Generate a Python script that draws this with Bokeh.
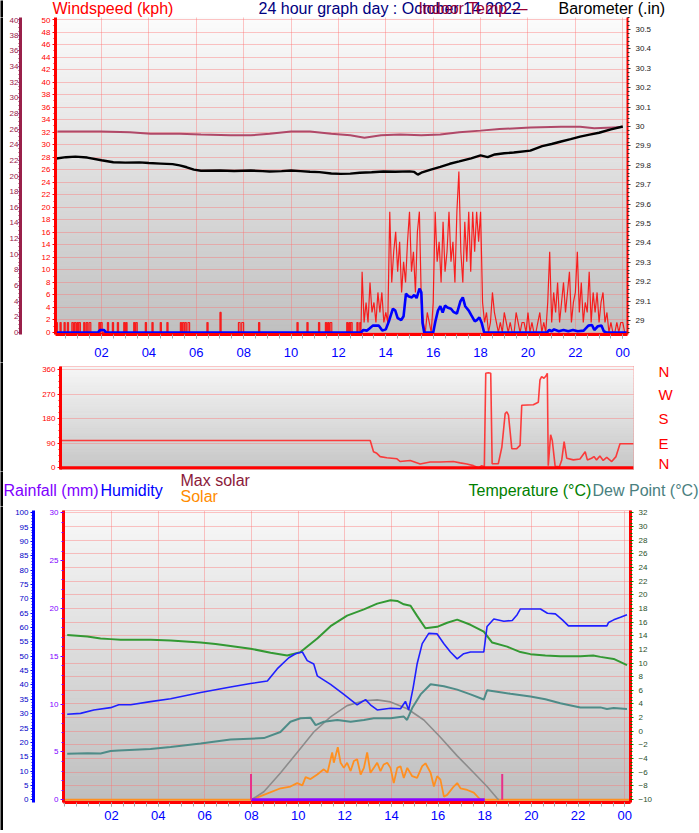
import numpy as np
from bokeh.plotting import figure
from bokeh.models import (Range1d, LinearAxis, SingleIntervalTicker, FixedTicker,
                          CustomJSTickFormatter, Span)
from bokeh.core.properties import value
from bokeh.layouts import column, row
from bokeh.embed import file_html
from bokeh.resources import INLINE

# ---------------------------------------------------------------- data
hour_ticks = [2, 4, 6, 8, 10, 12, 14, 16, 18, 20, 22, 24]
hour_labels = ["02", "04", "06", "08", "10", "12", "14", "16", "18", "20", "22", "00"]
compass_deg = [0, 90, 180, 270, 360]
compass_labels = ["N", "E", "S", "W", "N"]

head_texts = ["Windspeed (kph)", "24 hour graph day : October 14 2022", "Indoor Temp \u2014",
              "Barometer (.in)"]
head_colors = ["#ff0000", "#000080", "#990033", "#000000"]
legend_texts = ["Rainfall (mm)", "Humidity", "Max solar", "Solar", "Temperature (\u00b0C)",
                "Dew Point (\u00b0C)"]
legend_colors = ["#8000ff", "#0000ff", "#8b1a3a", "#ff8c00", "#008000", "#4a8080"]

# top panel: barometer (in)
baro_h = [0.1, 0.5, 0.9, 1.4, 2.0, 2.5, 3.0, 3.6, 4.0, 4.5, 5.0, 5.3, 5.6, 5.9, 6.2, 7.0, 7.6,
          8.3, 8.8, 9.1, 9.6, 10.0, 10.4, 10.8, 11.2, 11.7, 12.1, 12.5, 12.9, 13.4, 13.9, 14.4,
          15.0, 15.2, 15.35, 15.5, 15.9, 16.3, 16.7, 17.1, 17.6, 18.0, 18.3, 18.6, 19.0, 19.4,
          20.1, 20.6, 21.0, 21.4, 21.8, 22.2, 22.6, 23.0, 23.5, 24.0]
baro_v = [29.835, 29.842, 29.845, 29.840, 29.826, 29.816, 29.814, 29.815, 29.812, 29.809,
          29.806, 29.800, 29.790, 29.778, 29.772, 29.773, 29.771, 29.773, 29.770, 29.768,
          29.770, 29.773, 29.770, 29.767, 29.765, 29.758, 29.756, 29.757, 29.762, 29.764,
          29.768, 29.767, 29.769, 29.766, 29.752, 29.762, 29.778, 29.792, 29.808, 29.820,
          29.836, 29.851, 29.842, 29.856, 29.862, 29.866, 29.876, 29.899, 29.910, 29.923,
          29.935, 29.948, 29.958, 29.968, 29.985, 30.0]
# top panel: indoor temperature (C)
indoor_h = [0.14, 1.96, 3.2, 4.07, 5.3, 6.2, 7.44, 8.3, 9.1, 10.0, 10.8, 11.7, 12.5, 13.1,
            13.8, 14.6, 15.5, 16.3, 17.1, 18.0, 18.8, 20.1, 21.4, 22.2, 22.8, 23.6, 24.0]
indoor_v = [25.7, 25.7, 25.6, 25.4, 25.4, 25.3, 25.2, 25.2, 25.4, 25.7, 25.7, 25.4, 25.2, 24.9,
            25.2, 25.3, 25.2, 25.3, 25.6, 25.8, 26.0, 26.2, 26.3, 26.3, 26.1, 26.2, 26.25]
# top panel: gusts in the quiet hours (pulses)
gust_quiet_start = [0.08, 0.25, 0.42, 0.56, 0.75, 0.86, 0.97, 1.05, 1.25, 1.36,
                    1.48, 1.89, 1.97, 2.25, 2.46, 2.67, 2.94, 3.03, 3.36, 3.45,
                    3.85, 4.13, 4.48, 4.76, 5.33, 5.42, 5.52, 5.65, 6.45, 7.00,
                    7.78, 7.92, 8.63, 10.25, 10.67, 11.16, 11.45, 11.55, 11.65, 12.35,
                    12.45, 12.52, 12.78, 12.90]
gust_quiet_end = [0.14, 0.30, 0.47, 0.61, 0.81, 0.92, 1.02, 1.11, 1.30, 1.42,
                  1.55, 1.94, 2.03, 2.30, 2.51, 2.72, 2.99, 3.08, 3.41, 3.51,
                  3.90, 4.18, 4.53, 4.81, 5.38, 5.48, 5.58, 5.72, 6.50, 7.05,
                  7.85, 8.00, 8.68, 10.30, 10.72, 11.21, 11.50, 11.60, 11.72, 12.40,
                  12.49, 12.58, 12.83, 12.95]
gust_quiet_kph = [1.6, 1.6, 1.6, 1.6, 1.6, 1.6, 1.6, 1.6, 1.6, 1.6,
                  1.6, 1.6, 1.6, 1.6, 1.6, 1.6, 1.6, 1.6, 1.6, 1.6,
                  1.6, 1.6, 1.6, 1.6, 1.6, 1.6, 1.6, 1.6, 1.6, 3.2,
                  1.6, 1.6, 1.6, 1.6, 1.6, 1.6, 1.6, 1.6, 1.6, 1.6,
                  1.6, 1.6, 1.6, 1.6]
# top panel: gusts from 13:00, one value every 5 minutes
gust_active_start_h = 13.0
gust_active_step_min = 5
gust_active_kph = [9.7, 1.6, 4.8, 1.6, 8.0, 3.2, 4.8, 1.6, 6.4, 3.2, 6.4, 1.6,
                   3.2, 1.6,
                   19.3, 8.0, 12.9, 16.1, 9.7, 14.5, 6.4, 11.3, 8.0, 14.5, 19.3, 9.7, 12.9,
                   6.4, 16.1, 19.3, 4.8,
                   1.6, 0, 3.2, 1.6, 0,
                   4.8, 19.3, 11.3, 14.5, 8.0, 17.7, 9.7, 12.9, 19.3, 11.3, 14.5, 8.0, 19.3,
                   25.7, 12.9, 8.0, 17.7, 11.3, 19.3, 9.7, 19.3, 12.9, 19.3, 14.5, 19.3,
                   4.8, 1.6, 3.2, 0, 1.6, 6.4, 3.2, 1.6,
                   0, 1.6, 0, 3.2, 1.6, 0, 1.6, 0, 0, 3.2, 1.6, 0, 1.6, 1.6, 0, 3.2, 0, 1.6,
                   0, 0, 1.6, 3.2, 0, 1.6, 0,
                   4.8, 12.9, 1.6, 6.4, 3.2, 8.0, 1.6, 4.8, 8.0, 3.2, 6.4, 9.7, 1.6, 4.8, 6.4,
                   12.9, 3.2, 8.0, 1.6, 4.8, 3.2, 9.7, 1.6, 6.4, 3.2, 6.4, 1.6, 4.8, 6.4, 1.6,
                   3.2,
                   0, 1.6, 0, 0, 1.6, 0, 1.6, 1.6, 0]
# top panel: average wind speed (kph)
avg_h = [0.06, 1.85, 1.95, 2.1, 2.2, 12.95, 13.05, 13.2, 13.3, 13.45, 13.7, 13.85, 14.0, 14.15,
         14.3, 14.4, 14.5, 14.65, 14.75, 14.85, 14.95, 15.1, 15.2, 15.3, 15.42, 15.5, 15.55,
         15.62, 16.0, 16.1, 16.2, 16.3, 16.4, 16.5, 16.6, 16.75, 16.85, 17.0, 17.15, 17.25,
         17.35, 17.5, 17.6, 17.75, 17.85, 17.95, 18.05, 18.15, 20.8, 20.9, 21.0, 21.1, 21.3,
         21.5, 21.7, 21.9, 22.1, 22.35, 22.55, 22.7, 22.8, 22.95, 23.1, 23.2, 23.3, 24.2]
avg_v = [0, 0, 0.4, 0.4, 0, 0, 0.4, 0.3, 0.6, 1.1, 1.1, 0.3, 0.5, 2.0, 3.8, 3.5, 2.3, 2.0,
         2.6, 6.2, 5.8, 5.6, 6.0, 5.5, 7.0, 6.4, 1.5, 0, 0, 1.9, 3.5, 4.2, 3.2, 4.3, 4.0, 3.8,
         3.3, 3.0, 5.0, 5.6, 4.2, 3.5, 2.8, 1.8, 2.0, 2.4, 1.5, 0, 0, 0.4, 0.2, 0.5, 0.2, 0.4,
         0.2, 0.4, 0.2, 0.3, 1.1, 1.2, 0.4, 1.0, 1.1, 0.2, 0, 0]

# middle panel: wind direction (degrees)
dir_h = [0.06, 13.14, 13.28, 13.42, 13.56, 13.84, 14.27, 14.4, 14.83, 15.25, 15.67, 16.1,
         16.65, 16.94, 17.22, 17.5, 17.71, 17.85, 17.96, 18.02, 18.13, 18.23, 18.29, 18.55,
         18.7, 18.84, 18.91, 18.98, 19.12, 19.33, 19.47, 19.54, 20.03, 20.24, 20.31, 20.38,
         20.48, 20.56, 20.62, 20.66, 20.76, 20.83, 20.95, 21.13, 21.23, 21.33, 21.44, 21.72,
         22.0, 22.22, 22.31, 22.49, 22.59, 22.7, 22.84, 22.98, 23.13, 23.34, 23.52, 23.69, 24.26]
dir_v = [100, 100, 59, 53, 41, 37, 33, 23, 27, 14, 21, 21, 23, 18, 14, 8, 0, 8, 4, 346, 348,
         346, 15, 15, 76, 199, 205, 193, 70, 70, 82, 229, 231, 240, 322, 334, 328, 336, 346, 8,
         121, 100, 6, 4, 29, 96, 35, 29, 32, 59, 29, 35, 41, 29, 43, 27, 38, 23, 41, 88, 88]

# bottom panel
temp_h = [0.1, 0.96, 1.53, 1.96, 2.39, 3.68, 4.53, 5.82, 6.46, 7.1, 7.96, 8.82, 9.53, 10.1,
          10.82, 11.39, 12.1, 12.82, 13.39, 13.96, 14.25, 14.53, 14.82, 15.1, 15.46, 15.96,
          16.39, 16.82, 17.39, 17.96, 18.32, 18.96, 19.53, 19.96, 20.6, 21.24, 22.1, 22.65,
          22.96, 23.53, 24.1]
temp_v = [14.1, 13.9, 13.6, 13.5, 13.4, 13.4, 13.3, 13.0, 12.8, 12.5, 12.1, 11.5, 11.1, 11.6,
          13.6, 15.4, 16.95, 17.85, 18.7, 19.2, 19.1, 18.6, 18.4, 16.9, 15.1, 15.3, 15.9,
          16.35, 15.6, 14.6, 13.0, 12.4, 11.6, 11.3, 11.1, 11.0, 11.0, 11.1, 10.9, 10.6, 9.7]
hum_h = [0.1, 0.67, 1.24, 1.96, 2.31, 2.82, 3.67, 4.53, 5.82, 7.1, 7.96, 8.68, 9.1, 9.6, 9.89,
         10.18, 10.39, 10.67, 10.82, 11.39, 11.96, 12.53, 12.89, 13.1, 13.39, 13.96, 14.39,
         14.6, 14.74, 14.93, 15.1, 15.32, 15.6, 15.96, 16.25, 16.53, 16.82, 17.1, 17.39, 17.96,
         18.1, 18.39, 18.82, 19.18, 19.39, 19.53, 19.96, 20.39, 20.69, 21.03, 21.33, 21.59,
         22.1, 23.24, 23.31, 23.53, 23.82, 24.1]
hum_v = [29.8, 30.1, 31.3, 32.1, 33.1, 33.1, 34.2, 35.2, 37.4, 39.3, 40.5, 41.4, 45.6, 49.5,
         50.9, 51.5, 48.5, 47.3, 43.2, 40.2, 36.7, 33.1, 34.9, 33.1, 31.3, 31.9, 31.7, 34.3,
         31.3, 39.0, 47.3, 54.4, 58.0, 57.8, 54.4, 51.5, 49.1, 50.9, 51.5, 51.5, 60.4, 63.0,
         62.2, 62.5, 64.5, 66.5, 66.5, 66.5, 65.0, 64.8, 62.7, 60.6, 60.6, 60.6, 61.8, 62.7,
         63.6, 64.5]
dew_h = [0.1, 0.96, 1.53, 1.96, 2.31, 3.67, 4.53, 5.82, 7.1, 8.53, 9.24, 9.67, 10.1, 10.53,
         10.75, 11.1, 11.68, 12.25, 12.82, 13.24, 13.96, 14.53, 14.67, 14.89, 15.25, 15.68,
         16.25, 16.82, 17.39, 17.96, 18.1, 18.53, 19.1, 19.96, 20.6, 21.24, 22.1, 22.96, 23.24,
         23.53, 24.1]
dew_v = [-3.3, -3.2, -3.25, -2.9, -2.8, -2.6, -2.3, -1.8, -1.2, -1.0, -0.1, 1.4, 1.9, 2.0, 0.9,
         1.4, 1.66, 1.4, 1.66, 1.9, 1.9, 2.15, 1.66, 3.4, 5.4, 6.9, 6.6, 6.1, 5.4, 4.65, 6.0,
         5.8, 5.5, 5.1, 4.7, 4.1, 3.5, 3.5, 3.26, 3.4, 3.26]
maxsol_h = [8.0, 8.53, 9.25, 9.96, 10.67, 11.39, 12.1, 12.82, 13.39, 13.96, 14.68, 15.39,
            16.1, 16.82, 17.53, 18.1, 18.53, 18.6]
maxsol_v = [0, 28, 94, 165, 236, 289, 328, 345, 348, 341, 317, 278, 218, 153, 94, 46, 5, 0]
sol_h = [0.0, 8.0, 8.53, 9.25, 9.67, 9.96, 10.18, 10.32, 10.53, 10.82, 11.1, 11.26, 11.46,
         11.53, 11.7, 11.82, 11.96, 12.1, 12.25, 12.39, 12.53, 12.68, 12.82, 12.96, 13.1,
         13.24, 13.39, 13.53, 13.67, 13.82, 13.96, 14.1, 14.25, 14.39, 14.53, 14.68, 14.89,
         15.1, 15.32, 15.46, 15.68, 15.82, 15.96, 16.1, 16.25, 16.39, 16.67, 16.82, 16.96,
         17.25, 17.53, 17.82, 24.2]
sol_v = [0, 0, 17, 40, 46, 58, 50, 79, 72, 88, 106, 95, 165, 129, 183, 129, 111, 129, 100,
         135, 141, 88, 111, 165, 94, 111, 129, 100, 123, 129, 111, 58, 111, 117, 76, 111, 82,
         76, 117, 127, 94, 46, 82, 70, 11, 17, 46, 58, 40, 34, 25, 0, 0]
rain_h = [7.98, 18.0]
rain_v = [0.0, 0.0]
sun_marks_h = [7.98, 18.75]

# ---------------------------------------------------------------- style helpers
FONT = "Liberation Sans"
OX = 3            # width of the black strip at the left edge
W = 699 - OX
GRID = "#ff7070"


def make_fig(h, l, r, t, b, xr, yr, **kw):
    return figure(width=W, height=h, x_range=Range1d(*xr), y_range=Range1d(*yr),
                  min_border_left=l - OX, min_border_right=r, min_border_top=t,
                  min_border_bottom=b, output_backend="svg", toolbar_location=None,
                  background_fill_color="white", border_fill_color="white",
                  outline_line_color=None, frame_align=False, **kw)


def text_fig(h, w=W, fill="white"):
    p = figure(width=w, height=h, x_range=Range1d(OX, OX + w), y_range=Range1d(h, 0),
               min_border=0, output_backend="svg", toolbar_location=None,
               x_axis_location=None, y_axis_location=None, outline_line_color=None,
               background_fill_color=fill, border_fill_color=fill, frame_align=False)
    p.xgrid.visible = False
    p.ygrid.visible = False
    return p


def with_edge(p, h):
    strip = figure(width=OX, height=h, min_border=0, output_backend="svg",
                   toolbar_location=None, x_axis_location=None, y_axis_location=None,
                   outline_line_color=None, background_fill_color="#000000",
                   border_fill_color="#000000", frame_align=False,
                   x_range=Range1d(0, 1), y_range=Range1d(0, 1))
    strip.xgrid.visible = False
    strip.ygrid.visible = False
    return row(strip, p, spacing=0)


def shade(p, xr, yr, top_rgb, bot_rgb, n=64):
    edges = np.linspace(yr[0], yr[1], n + 1)
    cols = []
    for i in range(n):
        f = (i + 0.5) / n
        c = [int(round(b + (t - b) * f)) for t, b in zip(top_rgb, bot_rgb)]
        cols.append("#%02x%02x%02x" % tuple(c))
    p.quad(left=xr[0], right=xr[1], bottom=edges[:-1], top=edges[1:],
           fill_color=cols, line_color=cols, line_width=1, level="image")


def yax(ax, ticker, line_color, line_w, tick_color, label_color, size="8px",
        standoff=2, tick_out=3, minor_out=2):
    ax.ticker = ticker
    ax.axis_line_color = line_color
    ax.axis_line_width = line_w
    ax.major_tick_line_color = tick_color
    ax.minor_tick_line_color = tick_color
    ax.major_tick_in = 0
    ax.major_tick_out = tick_out
    ax.minor_tick_in = 0
    ax.minor_tick_out = minor_out
    ax.major_label_text_color = label_color
    ax.major_label_text_font = FONT
    ax.major_label_text_font_size = size
    ax.major_label_standoff = standoff


def xax(ax, standoff):
    ax.ticker = FixedTicker(ticks=hour_ticks, minor_ticks=[i * 0.5 for i in range(0, 50)])
    ax.major_label_overrides = dict(zip(hour_ticks, hour_labels))
    ax.major_label_text_color = "#0000ff"
    ax.major_label_text_font = FONT
    ax.major_label_text_font_size = "13px"
    ax.major_label_standoff = standoff
    ax.axis_line_color = "#ff0000"
    ax.axis_line_width = 3
    ax.major_tick_line_color = "#a8a8a8"
    ax.minor_tick_line_color = "#a8a8a8"
    ax.major_tick_in = 0
    ax.major_tick_out = 4
    ax.minor_tick_in = 0
    ax.minor_tick_out = 4


def grid_style(g):
    g.grid_line_color = GRID
    g.grid_line_alpha = 0.8
    g.grid_line_dash = "1 1"
    g.grid_line_width = 1


# ---------------------------------------------------------------- heading row
pT = text_fig(17)
pT.text(x=[52, 258, 418, 558], y=[8, 8, 8, 8], text=head_texts, text_color=head_colors,
        text_font=value(FONT), text_font_size=value("16px"), text_baseline="middle",
        text_align="left")

# ---------------------------------------------------------------- top panel
xrA = (0.06, 24.2)
yrA = (-0.32, 50.32)
pA = make_fig(345, 55, 72, 0, 28, xrA, yrA)
pA.extra_y_ranges = {"baro": Range1d(28.928, 30.562), "indoor": Range1d(-0.26, 40.26)}
shade(pA, xrA, yrA, (251, 251, 251), (192, 192, 192))

wind_ax = pA.yaxis[0]
yax(wind_ax, SingleIntervalTicker(interval=2, num_minor_ticks=2), "#ff0000", 3,
    "#ff0000", "#ff0000")
wind_ax.axis_label = " "
wind_ax.axis_label_text_font_size = "10px"
wind_ax.axis_label_standoff = 4

indoor_ax = LinearAxis(y_range_name="indoor")
yax(indoor_ax, SingleIntervalTicker(interval=2, num_minor_ticks=4), "#99204a", 3,
    "#99204a", "#99204a", standoff=0, tick_out=2, minor_out=2)
pA.add_layout(indoor_ax, "left")

baro_ax = LinearAxis(y_range_name="baro")
yax(baro_ax, SingleIntervalTicker(interval=0.1, num_minor_ticks=5), "#ff0000", 2,
    "#303030", "#202020", standoff=5)
baro_ax.formatter = CustomJSTickFormatter(code="return String(Math.round(tick * 10) / 10);")
pA.add_layout(baro_ax, "right")

xax(pA.xaxis[0], 9)
pA.xgrid.ticker = FixedTicker(ticks=hour_ticks)
pA.ygrid.ticker = SingleIntervalTicker(interval=2)
grid_style(pA.xgrid)
grid_style(pA.ygrid)

gx, gy = [xrA[0]], [0.0]
for s, e, v in zip(gust_quiet_start, gust_quiet_end, gust_quiet_kph):
    gx += [s, s, e, e]
    gy += [0.0, v, v, 0.0]
for i, v in enumerate(gust_active_kph):
    gx.append(gust_active_start_h + i * gust_active_step_min / 60.0)
    gy.append(v)
gx.append(xrA[1])
gy.append(0.0)
pA.line(gx, gy, line_color="#ff0000", line_width=1.2, line_alpha=0.85)
pA.line(avg_h, avg_v, line_color="#0000ff", line_width=2.6)
pA.line(indoor_h, indoor_v, y_range_name="indoor", line_color="#b04868", line_width=2)
pA.line(baro_h, baro_v, y_range_name="baro", line_color="#000000", line_width=2.4)

# ---------------------------------------------------------------- middle panel
xrB = (0.06, 24.26)
yrB = (-6.2, 371.0)
pB = make_fig(109, 60, 66, 4, 2, xrB, yrB, x_axis_location=None)
pB.outline_line_color = "#ff5050"
pB.outline_line_alpha = 0.8
pB.xgrid.visible = False
shade(pB, xrB, yrB, (246, 246, 246), (198, 198, 198))

dir_ax = pB.yaxis[0]
yax(dir_ax, FixedTicker(ticks=compass_deg, minor_ticks=[i * 22.5 for i in range(0, 17)]),
    "#ff0000", 3, "#ff0000", "#ff0000")
comp_ax = LinearAxis(ticker=FixedTicker(ticks=compass_deg),
                     major_label_overrides=dict(zip(compass_deg, compass_labels)))
comp_ax.axis_line_color = None
comp_ax.major_tick_line_color = None
comp_ax.minor_tick_line_color = None
comp_ax.major_label_text_color = "#ff0000"
comp_ax.major_label_text_font = FONT
comp_ax.major_label_text_font_size = "15px"
comp_ax.major_label_standoff = 19
pB.add_layout(comp_ax, "right")
pB.ygrid.ticker = FixedTicker(ticks=compass_deg)
grid_style(pB.ygrid)
pB.add_layout(Span(location=0, dimension="width", line_color="#ff0000", line_width=3))
pB.line(dir_h, dir_v, line_color="#ff2a2a", line_width=1.6, line_alpha=0.9)

# ---------------------------------------------------------------- legend row
pL = text_fig(35)
pL.text(x=[3, 100, 180, 180, 468, 592], y=[19, 19, 9, 25, 19, 19], text=legend_texts,
        text_color=legend_colors, text_font=value(FONT), text_font_size=value("16px"),
        text_baseline="middle", text_align="left")

# ---------------------------------------------------------------- bottom panel
xrC = (-0.06, 24.25)
yrC = (-0.29, 30.25)
pC = make_fig(324, 63, 69, 4, 28, xrC, yrC)
pC.extra_y_ranges = {"hum": Range1d(-0.96, 100.82), "temp": Range1d(-10.43, 32.34),
                     "solar": Range1d(-9.6, 1008.0)}
pC.outline_line_color = "#ff5050"
pC.outline_line_alpha = 0.8
shade(pC, xrC, yrC, (248, 248, 248), (190, 190, 190))

rain_ax = pC.yaxis[0]
yax(rain_ax, SingleIntervalTicker(interval=5, num_minor_ticks=5), "#ff0000", 3,
    "#8000ff", "#8000ff")
rain_ax.axis_label = " "
rain_ax.axis_label_text_font_size = "9px"
rain_ax.axis_label_standoff = 0

hum_ax = LinearAxis(y_range_name="hum")
yax(hum_ax, SingleIntervalTicker(interval=5, num_minor_ticks=5), "#0000ff", 3,
    "#0000ff", "#0000c8")
pC.add_layout(hum_ax, "left")

temp_ax = LinearAxis(y_range_name="temp")
yax(temp_ax, SingleIntervalTicker(interval=2, num_minor_ticks=4), "#ff0000", 3,
    "#008000", "#2b4f2b", standoff=5)
pC.add_layout(temp_ax, "right")

xax(pC.xaxis[0], 4)
pC.xgrid.ticker = FixedTicker(ticks=hour_ticks)
pC.ygrid.ticker = SingleIntervalTicker(interval=2)
pC.ygrid.y_range_name = "temp"
grid_style(pC.xgrid)
grid_style(pC.ygrid)

pC.line(sol_h, sol_v, y_range_name="solar", line_color="#ff9020", line_width=1.8)
pC.line(maxsol_h, maxsol_v, y_range_name="solar", line_color="#8c8c8c", line_width=1.6)
pC.line(rain_h, rain_v, line_color="#8a00ff", line_width=3)
pC.segment(x0=sun_marks_h, y0=[0, 0], x1=sun_marks_h, y1=[2.7, 2.7],
           line_color="#e8308a", line_width=2)
pC.line(dew_h, dew_v, y_range_name="temp", line_color="#4e8c88", line_width=2)
pC.line(temp_h, temp_v, y_range_name="temp", line_color="#339933", line_width=2)
pC.line(hum_h, hum_v, y_range_name="hum", line_color="#2020ff", line_width=1.6)

# ---------------------------------------------------------------- black bottom edge
pEdgeB = text_fig(3, fill="#000000")

layout = column(with_edge(pT, 17), with_edge(pA, 345), with_edge(pB, 109),
                with_edge(pL, 35), with_edge(pC, 324), with_edge(pEdgeB, 3), spacing=0)
open("out.html", "w").write(file_html(layout, INLINE))
